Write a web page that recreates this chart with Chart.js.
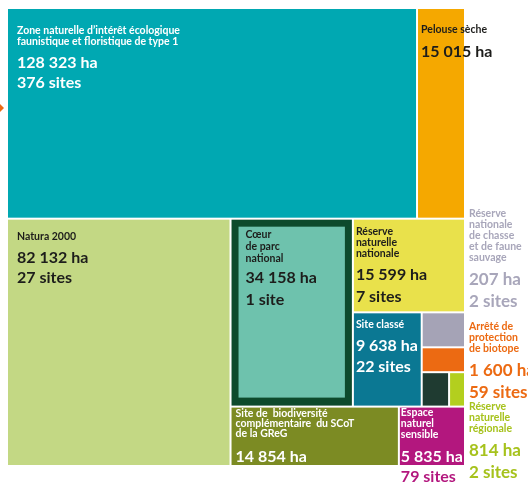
<!DOCTYPE html>
<html>
<head>
<meta charset="utf-8">
<script src="https://cdn.jsdelivr.net/npm/chart.js@4.4.1/dist/chart.umd.min.js"></script>
<style>
  html, body { margin: 0; padding: 0; background: #fff; }
  #wrap { width: 528px; height: 483px; }
</style>
</head>
<body>
<div id="wrap"><canvas id="treemap"></canvas></div>
<script>
// protected areas, in tile order
const names = [
    ['Zone naturelle d’intérêt écologique', 'faunistique et floristique de type 1'],
    ['Pelouse sèche'],
    ['Natura 2000'],
    ['Cœur', 'de parc', 'national'],
    ['Réserve', 'naturelle', 'nationale'],
    ['Site classé'],
    ['Site de  biodiversité', 'complémentaire  du SCoT', 'de la GReG'],
    ['Espace', 'naturel', 'sensible'],
    ['Réserve', 'nationale', 'de chasse', 'et de faune', 'sauvage'],
    ['Arrêté de', 'protection', 'de biotope'],
    ['Réserve', 'naturelle', 'régionale'],
    []
];
const hectares = [128323, 15015, 82132, 34158, 15599, 9638, 14854, 5835, 207, 1600, 814, null];
const sites = [376, null, 27, 1, 7, 22, null, 79, 2, 59, 2, null];
// area of each tile as drawn (ha); the small tiles are not drawn to scale in the picture
const tileHa = [128323, 15015, 82132, 34158, 15599, 9638, 14854, 5835, 2250, 1600, 814, 1400];

// slice-and-dice structure: 'col' stacks top to bottom, 'row' puts side by side
const tree = ['col',
    ['row', 0, 1],
    ['row', 2,
        ['col',
            ['row', 3, ['col', 4, ['row', 5, ['col', 8, 9, ['row', 11, 10]]]]],
            ['row', 6, 7]]]];

const fills = ['#00a8b2', '#f5a800', '#c3d884', '#0d4a2c', '#e9e14b', '#0b7893',
    '#7c8b23', '#b3177e', '#a5a3b6', '#ec6a12', '#b3cf1e', '#1f3b31'];
const textColors = ['#fff', '#1d1d1b', '#1d1d1b', '#1d1d1b', '#1d1d1b', '#fff',
    '#fff', '#fff', '#a8a6ba', '#ec6a12', '#a6c21c', null];

// label placement per tile: x offset, first name baseline, name line height, gap to values, value line height
const labelPos = {
    0: [9, 25, 11, 23, 20],
    1: [3, 24, 11, 24, 20],
    2: [9, 20, 11, 23, 20],
    3: [14, 18, 12, 21, 22],
    4: [2, 15, 11, 23, 22],
    5: [2, 15, 11, 23, 21],
    6: [4, 9, 10, 25, 20],
    7: [1, 8, 11, 24, 20]
};
// labels of the small tiles sit to the right of the chart
const outsideTop = { 8: 209, 9: 322, 10: 402 };

const FONT = 'Lato, "Open Sans", sans-serif';

function weight(node) {
    if (typeof node === 'number') return tileHa[node];
    return node.slice(1).reduce((s, n) => s + weight(n), 0);
}

function place(node, x0, y0, x1, y1, out) {
    if (typeof node === 'number') {
        out[node] = { x0, y0, x1, y1 };
        return;
    }
    const total = weight(node);
    let pos = node[0] === 'row' ? x0 : y0;
    node.slice(1).forEach(k => {
        const f = weight(k) / total;
        if (node[0] === 'row') {
            const w = (x1 - x0) * f;
            place(k, pos, y0, pos + w, y1, out);
            pos += w;
        } else {
            const h = (y1 - y0) * f;
            place(k, x0, pos, x1, pos + h, out);
            pos += h;
        }
    });
}

function fmt(n) {
    return String(n).replace(/\B(?=(\d{3})+(?!\d))/g, ' ');
}

function valueLines(i) {
    const lines = [];
    if (hectares[i] != null) lines.push(fmt(hectares[i]) + ' ha');
    if (sites[i] != null) lines.push(sites[i] + (sites[i] > 1 ? ' sites' : ' site'));
    return lines;
}

const treemapPlugin = {
    id: 'treemap',
    afterDatasetsDraw(chart) {
        const ctx = chart.ctx;
        const xs = chart.scales.x, ys = chart.scales.y;
        const rects = [];
        place(tree, 0, 0, 1, 1, rects);
        ctx.save();
        rects.forEach((r, i) => {
            const left = xs.getPixelForValue(r.x0) + 1;
            const right = xs.getPixelForValue(r.x1) - 1;
            const top = ys.getPixelForValue(r.y0) + 1;
            const bottom = ys.getPixelForValue(r.y1) - 1;
            ctx.fillStyle = fills[i];
            ctx.fillRect(left, top, right - left, bottom - top);
            if (i === 3) {
                ctx.fillStyle = '#6ec2ad';
                ctx.fillRect(left + 7, top + 7, right - left - 14, bottom - top - 15);
            }
            r.px = { left, right, top, bottom };
        });

        // labels inside tiles
        Object.keys(labelPos).forEach(k => {
            const i = +k;
            const [dx, y0, lh, gap, vlh] = labelPos[i];
            const p = rects[i].px;
            let y = p.top + y0;
            ctx.fillStyle = textColors[i];
            ctx.font = 'bold 10.5px ' + FONT;
            names[i].forEach((t, j) => {
                if (j > 0) y += lh;
                ctx.fillText(t, p.left + dx, y);
            });
            ctx.font = 'bold 16px ' + FONT;
            valueLines(i).forEach((t, j) => {
                y += j === 0 ? gap : vlh;
                // the second line of the magenta tile hangs below it
                ctx.fillStyle = (i === 7 && y > p.bottom) ? fills[7] : textColors[i];
                ctx.fillText(t, p.left + dx, y);
            });
        });

        // labels for the small tiles, right of the chart
        const lx = chart.chartArea.right + 4;
        Object.keys(outsideTop).forEach(k => {
            const i = +k;
            let y = outsideTop[i] + 8;
            ctx.fillStyle = textColors[i];
            ctx.font = 'bold 10.5px ' + FONT;
            names[i].forEach((t, j) => {
                if (j > 0) y += 11;
                ctx.fillText(t, lx, y);
            });
            ctx.font = 'bold 17px ' + FONT;
            valueLines(i).forEach((t, j) => {
                y += j === 0 ? 24 : 22;
                ctx.fillText(t, lx, y);
            });
        });

        // small marker on the left edge
        ctx.fillStyle = '#ec6a12';
        const my = chart.chartArea.top + 100;
        ctx.beginPath();
        ctx.moveTo(0, my - 4);
        ctx.lineTo(4, my);
        ctx.lineTo(0, my + 4);
        ctx.closePath();
        ctx.fill();
        ctx.restore();
    }
};

new Chart(document.getElementById('treemap'), {
    type: 'scatter',
    data: { datasets: [{ data: [] }] },
    options: {
        responsive: true,
        maintainAspectRatio: false,
        animation: false,
        layout: { padding: { left: 7, top: 8, right: 63, bottom: 17 } },
        scales: {
            x: { type: 'linear', min: 0, max: 1, display: false },
            y: { type: 'linear', min: 0, max: 1, reverse: true, display: false }
        },
        plugins: {
            legend: { display: false },
            tooltip: { enabled: false }
        }
    },
    plugins: [treemapPlugin]
});
</script>
</body>
</html>
